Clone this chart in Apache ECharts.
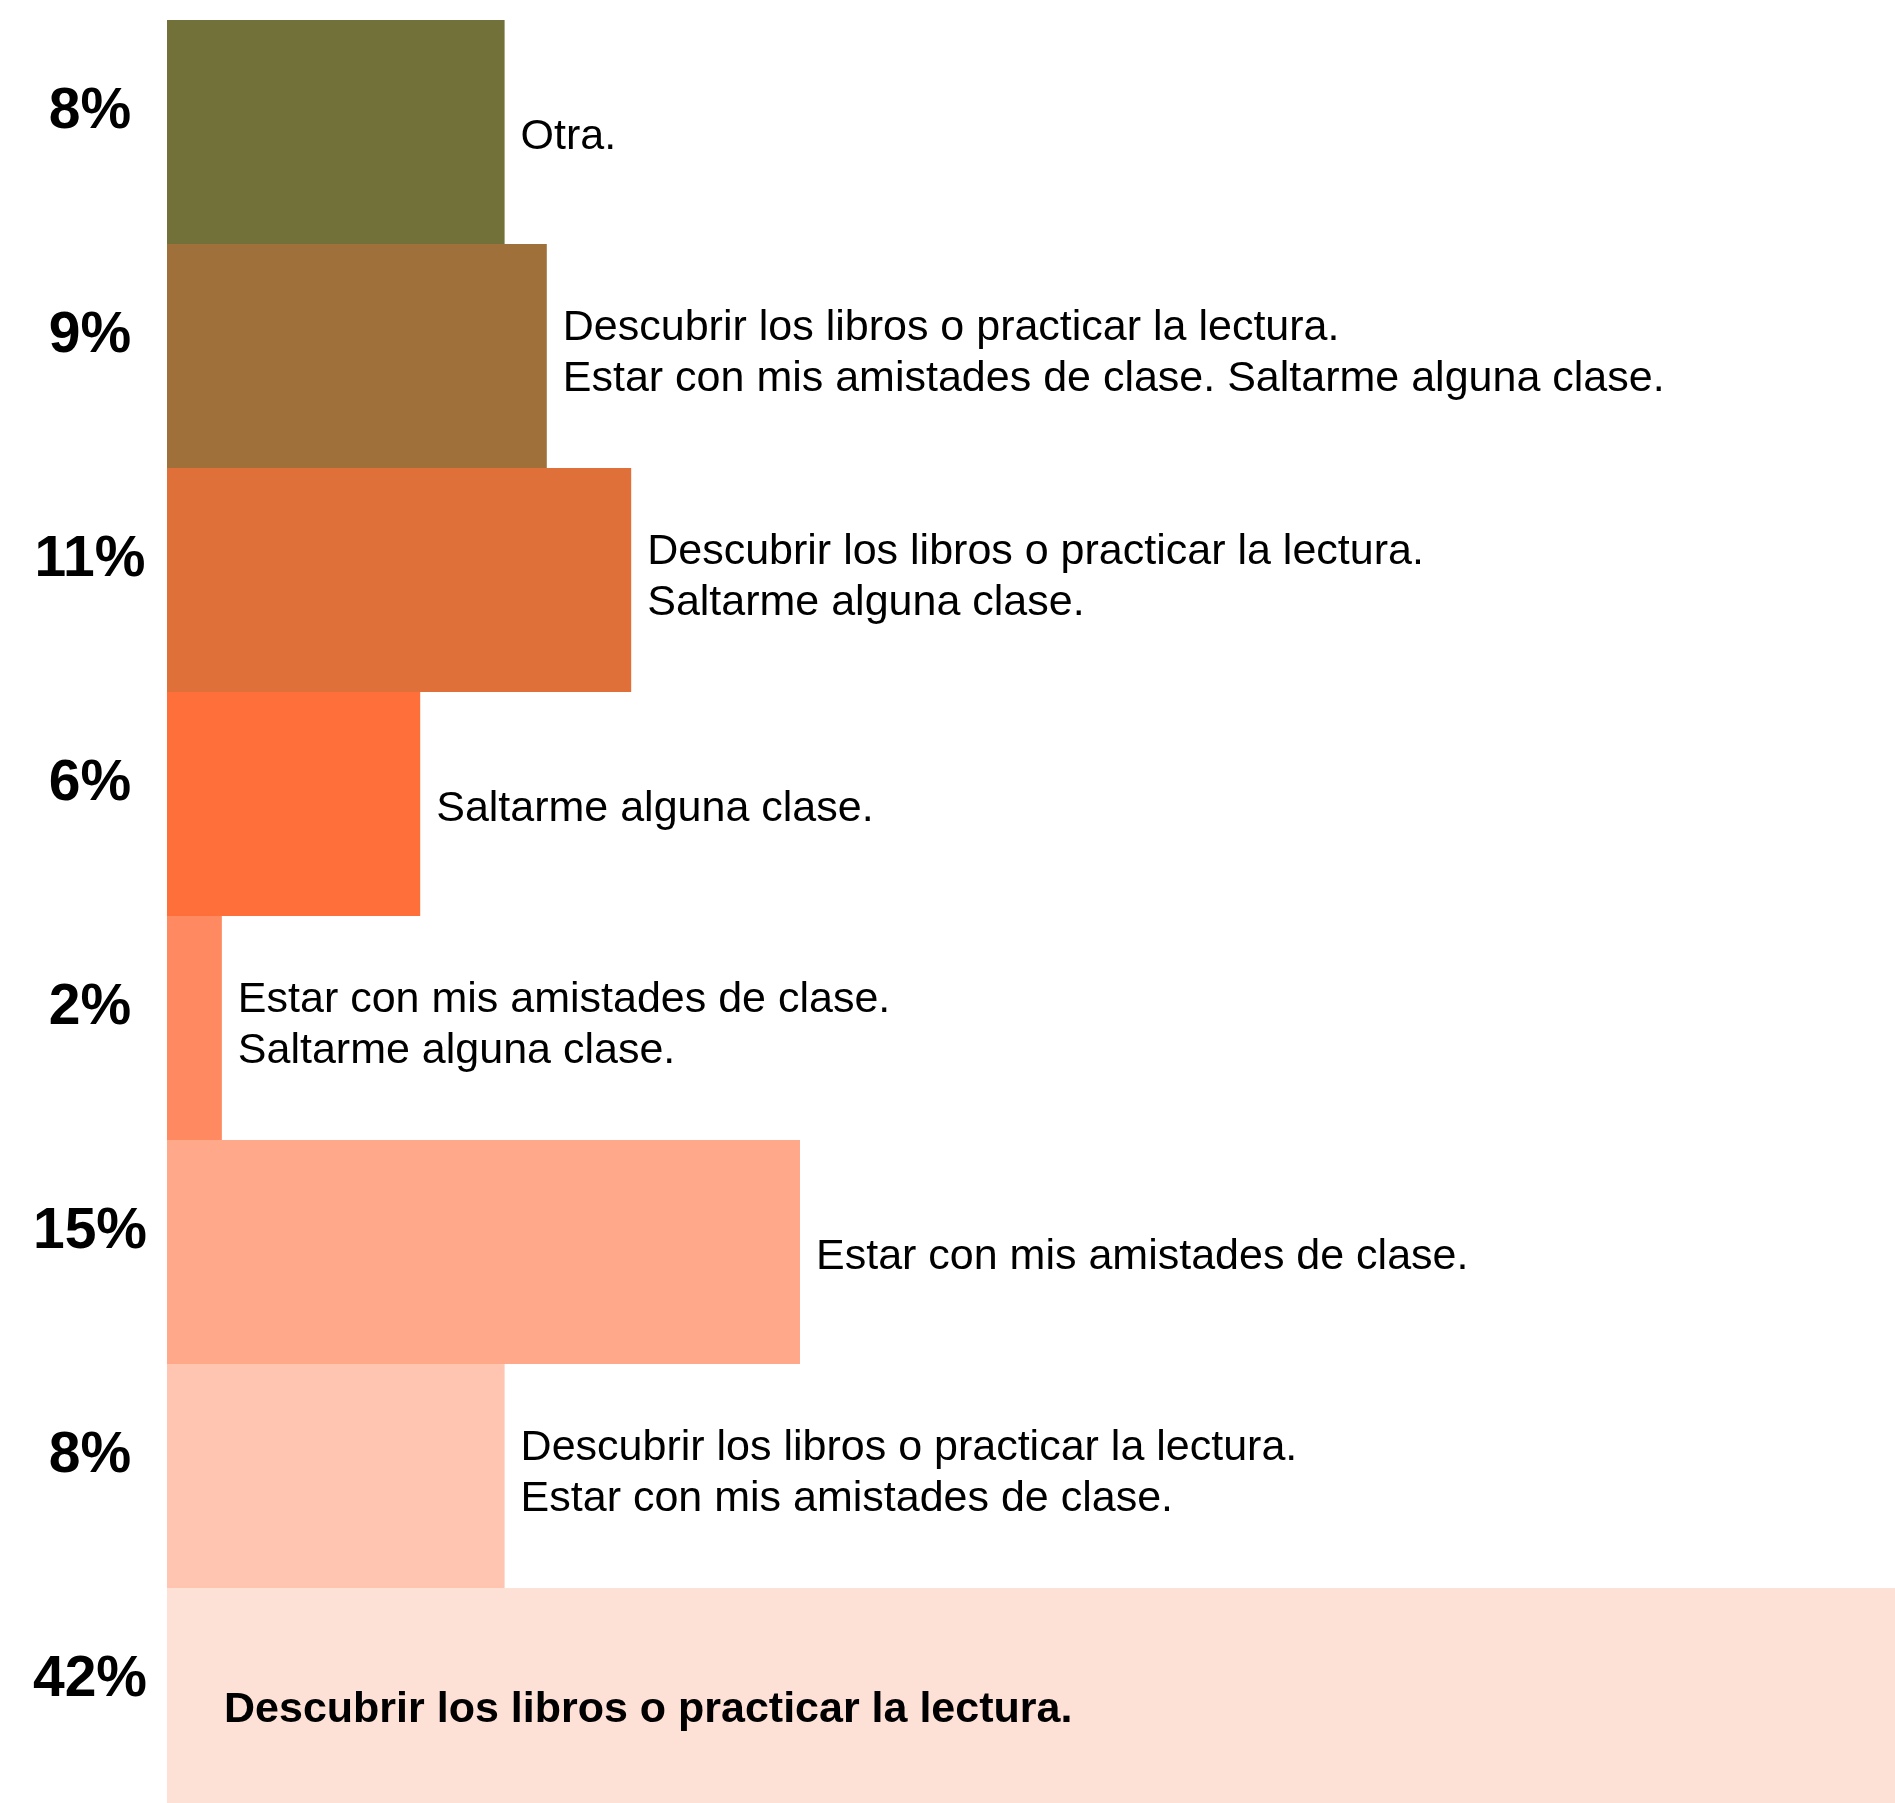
<!DOCTYPE html>
<html>
<head>
<meta charset="utf-8">
<script src="https://cdn.jsdelivr.net/npm/echarts@6/dist/echarts.min.js"></script>
<style>
  html, body { margin: 0; padding: 0; background: #fff; overflow: hidden; }
  #wrap { width: 1895px; height: 1803px; overflow: hidden; position: relative; }
  /* el gráfico sobresale por la derecha y por abajo, como en el original */
  #chart { width: 2100px; height: 1812px; }
</style>
</head>
<body>
<div id="wrap"><div id="chart"></div></div>
<script>
// etiquetas de la izquierda (de arriba abajo)
const pctLabels = ['8%', '9%', '11%', '6%', '2%', '15%', '8%', '42%']
// longitud de cada barra
const values = [8, 9, 11, 6, 1.3, 15, 8, 42]
// respuestas
const answers = [
  'Otra.',
  'Descubrir los libros o practicar la lectura.\nEstar con mis amistades de clase. Saltarme alguna clase.',
  'Descubrir los libros o practicar la lectura.\nSaltarme alguna clase.',
  'Saltarme alguna clase.',
  'Estar con mis amistades de clase.\nSaltarme alguna clase.',
  'Estar con mis amistades de clase.',
  'Descubrir los libros o practicar la lectura.\nEstar con mis amistades de clase.',
  'Descubrir los libros o practicar la lectura.',
]
const colors = ['#717139', '#A0703A', '#E0703A', '#FF6F3A', '#FF8A62', '#FFA98A', '#FFC5B0', '#FDE0D6']

const FONT = "'Liberation Sans', Arial, sans-serif"
const pxPerUnit = 42.2
const xMax = 45

const chart = echarts.init(document.getElementById('chart'))

const seriesData = values.map((v, i) => {
  const last = i === values.length - 1
  const multi = answers[i].indexOf('\n') >= 0
  return {
    value: v,
    itemStyle: { color: colors[i] },
    label: last
      ? { position: 'insideLeft', distance: 57, offset: [0, 10], fontWeight: 'bold' }
      : { position: 'right', distance: 16, offset: [0, multi ? -2 : 5] },
  }
})

chart.setOption({
  animation: false,
  grid: {
    left: 167,
    top: 20,
    width: xMax * pxPerUnit,
    height: 224 * values.length,
  },
  xAxis: {
    type: 'value',
    min: 0,
    max: xMax,
    show: false,
  },
  yAxis: {
    type: 'category',
    inverse: true,
    data: pctLabels,
    axisLine: { show: false },
    axisTick: { show: false },
    splitLine: { show: false },
    axisLabel: {
      align: 'center',
      margin: 77,
      // segunda línea vacía para subir el porcentaje sobre el centro de la barra
      formatter: (v) => '{p|' + v + '}\n{s| }',
      rich: {
        p: {
          fontFamily: FONT,
          fontWeight: 'bold',
          fontSize: 57,
          lineHeight: 57,
          color: '#000',
        },
        s: { fontSize: 10, lineHeight: 40, height: 40 },
      },
    },
  },
  series: [
    {
      type: 'bar',
      barCategoryGap: '0%',
      data: seriesData,
      label: {
        show: true,
        formatter: (p) => answers[p.dataIndex],
        fontFamily: FONT,
        fontSize: 43,
        lineHeight: 51,
        color: '#000',
      },
    },
  ],
})
</script>
</body>
</html>
